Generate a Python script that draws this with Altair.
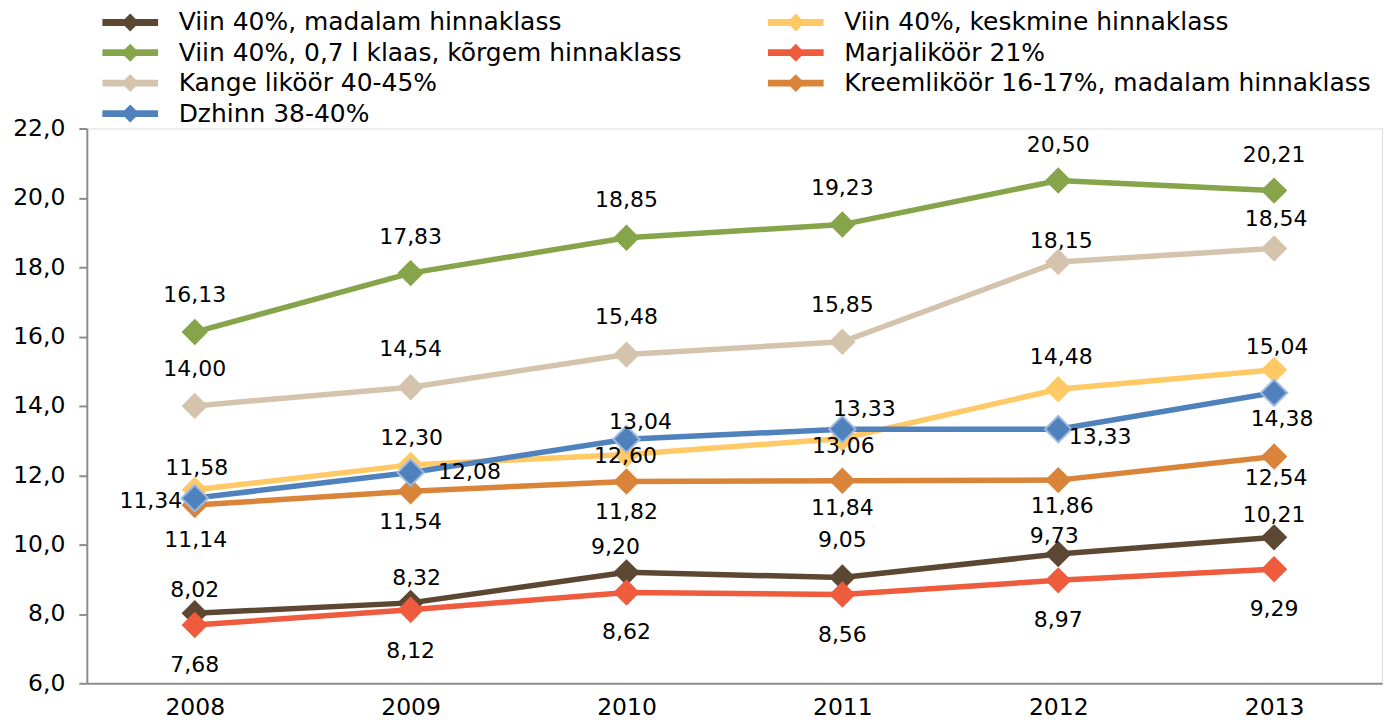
import altair as alt
import pandas as pd

YEARS = ["2008", "2009", "2010", "2011", "2012", "2013"]
SERIES = [
    "Viin 40%, madalam hinnaklass",
    "Viin 40%, keskmine hinnaklass",
    "Viin 40%, 0,7 l klaas, kõrgem hinnaklass",
    "Marjaliköör 21%",
    "Kange liköör 40-45%",
    "Kreemliköör 16-17%, madalam hinnaklass",
    "Dzhinn 38-40%",
]
V_MADALAM = [8.02, 8.32, 9.20, 9.05, 9.73, 10.21]
V_KESKMINE = [11.58, 12.30, 12.60, 13.06, 14.48, 15.04]
V_KORGEM = [16.13, 17.83, 18.85, 19.23, 20.50, 20.21]
MARJA = [7.68, 8.12, 8.62, 8.56, 8.97, 9.29]
KANGE = [14.00, 14.54, 15.48, 15.85, 18.15, 18.54]
KREEM = [11.14, 11.54, 11.82, 11.84, 11.86, 12.54]
DZHINN = [11.34, 12.08, 13.04, 13.33, 13.33, 14.38]
VALUES = [V_MADALAM, V_KESKMINE, V_KORGEM, MARJA, KANGE, KREEM, DZHINN]

# styles
COLORS = ["#5C4733", "#FFC965", "#86A44A", "#EE5B3D", "#D5C4AD", "#DA843A", "#4F81BD"]
LABEL_DX = [
    [0, 6, -11, 0, -4, 0],
    [2, 1, -1, 1, 3, 3],
    [0, 0, 0, 0, 0, 0],
    [0, 0, 0, 0, 0, 0],
    [0, 0, 0, 0, 3, 2],
    [1, 0, 0, 0, 4, 2],
    [-44, 59, 14, 22, 42, 8],
]
LABEL_DY = [
    [-23, -25, -25, -38, -18, -22],
    [-22, -27, 2, 8, -32, -23],
    [-37, -36, -38, -37, -36, -36],
    [40, 41, 40, 41, 40, 40],
    [-37, -38, -38, -37, -21, -30],
    [35, 31, 31, 27, 26, 22],
    [3, 0, -17, -20, 8, 26],
]
FONT = "DejaVu Sans"

rows = []
for si, name in enumerate(SERIES):
    for yi, yr in enumerate(YEARS):
        v = VALUES[si][yi]
        rows.append({
            "series": name, "year": yr, "value": v,
            "label": f"{v:.2f}".replace(".", ","),
            "ldx": LABEL_DX[si][yi], "ldy": LABEL_DY[si][yi],
        })
df = pd.DataFrame(rows)

x_enc = alt.X("year:O", scale=alt.Scale(type="point", padding=0.5),
              axis=alt.Axis(title=None, labelAngle=0, ticks=False, labelPadding=12,
                            labelFont=FONT, labelFontSize=23.5, labelColor="#000",
                            domainColor="#8C8C8C", domainWidth=2, grid=False))
y_enc = alt.Y("value:Q", scale=alt.Scale(domain=[6, 22], nice=False, zero=False),
              axis=alt.Axis(title=None, values=[6, 8, 10, 12, 14, 16, 18, 20, 22],
                            labelExpr="replace(format(datum.value, '.1f'), '.', ',')",
                            tickSize=8, tickColor="#8C8C8C", tickWidth=2, labelPadding=14,
                            labelFont=FONT, labelFontSize=23.5, labelColor="#000",
                            domainColor="#8C8C8C", domainWidth=2, grid=False))

color_enc = alt.Color("series:N", scale=alt.Scale(domain=SERIES, range=COLORS),
                      legend=alt.Legend(title=None, orient="none", legendX=31, legendY=-119,
                                        direction="horizontal",
                                        columns=2, columnPadding=85, rowPadding=4.5,
                                        symbolType="M-3.1,-0.38H3.1V0.38H-3.1Z M0,-1L1,0L0,1L-1,0Z",
                                        symbolSize=324, symbolStrokeWidth=0, labelOffset=36,
                                        labelFont=FONT, labelFontSize=25, labelColor="#000",
                                        labelLimit=900))

layers = []
for si, name in enumerate(SERIES):
    sub = alt.Chart(df).transform_filter(alt.datum.series == name)
    layers.append(sub.mark_line(color=COLORS[si], strokeWidth=5.5).encode(x=x_enc, y=y_enc))
    pt = dict(shape="diamond", size=700, filled=True, opacity=1)
    if name.startswith("Dzhinn"):
        pt.update(stroke="#9DB9E0", strokeWidth=2)
    else:
        pt.update(strokeWidth=0)
    layers.append(sub.mark_point(**pt).encode(x=x_enc, y=y_enc, color=color_enc))

labels = alt.Chart(df).mark_text(
    font=FONT, fontSize=22, color="#000", align="center", baseline="middle",
    dx=alt.ExprRef("datum.ldx"), dy=alt.ExprRef("datum.ldy"),
).encode(x=x_enc, y=y_enc, text="label:N")
layers.append(labels)

chart = alt.layer(*layers).properties(
    width=1298, height=556,
    autosize=alt.AutoSizeParams(type="none"),
    padding={"left": 79, "top": 120, "right": 10, "bottom": 41},
).configure_view(stroke="#B4B4B4", strokeWidth=2).configure(background="white")

chart.save("out.html", embed_options={"renderer": "svg", "actions": False})
